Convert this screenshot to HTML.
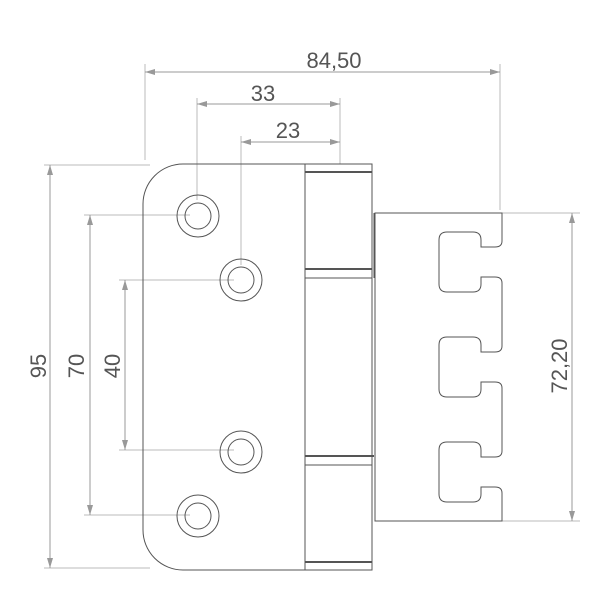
<!DOCTYPE html>
<html><head><style>html,body{margin:0;padding:0;background:#fff}svg{display:block}</style></head><body>
<svg width="600" height="600" viewBox="0 0 600 600" xmlns="http://www.w3.org/2000/svg">
<defs>
<marker id="a" viewBox="0 0 10 6" refX="10" refY="3" markerWidth="10" markerHeight="6" orient="auto-start-reverse" markerUnits="userSpaceOnUse"><path d="M0,0L10,3L0,6z" fill="#999"/></marker>
</defs>
<g stroke="#bbb" stroke-width="1" fill="none">
<line x1="145" y1="64" x2="145" y2="160"/>
<line x1="500" y1="64" x2="500" y2="210"/>
<line x1="197" y1="98" x2="197" y2="200"/>
<line x1="241" y1="136" x2="241" y2="265"/>
<line x1="340" y1="98" x2="340" y2="164"/>
<line x1="44" y1="165" x2="150" y2="165"/>
<line x1="44" y1="568" x2="150" y2="568"/>
<line x1="84" y1="215" x2="190" y2="215"/>
<line x1="84" y1="515" x2="190" y2="515"/>
<line x1="119" y1="280" x2="234" y2="280"/>
<line x1="119" y1="450" x2="234" y2="450"/>
<line x1="502" y1="213" x2="580" y2="213"/>
<line x1="502" y1="521" x2="580" y2="521"/>
</g>
<g stroke="#999" stroke-width="1" fill="none">
<line x1="145" y1="72" x2="500" y2="72" marker-start="url(#a)" marker-end="url(#a)"/>
<line x1="197" y1="104" x2="340" y2="104" marker-start="url(#a)" marker-end="url(#a)"/>
<line x1="241" y1="142" x2="340" y2="142" marker-start="url(#a)" marker-end="url(#a)"/>
<line x1="50" y1="165" x2="50" y2="568" marker-start="url(#a)" marker-end="url(#a)"/>
<line x1="90" y1="215" x2="90" y2="515" marker-start="url(#a)" marker-end="url(#a)"/>
<line x1="125" y1="280" x2="125" y2="450" marker-start="url(#a)" marker-end="url(#a)"/>
<line x1="572" y1="213" x2="572" y2="521" marker-start="url(#a)" marker-end="url(#a)"/>
</g>
<g font-family="Liberation Sans, sans-serif" font-size="22" fill="#555" text-anchor="middle">
<text x="334" y="68">84,50</text>
<text x="263" y="101">33</text>
<text x="288" y="138">23</text>
<text transform="translate(46,366) rotate(-90)">95</text>
<text transform="translate(84,366) rotate(-90)">70</text>
<text transform="translate(120,366) rotate(-90)">40</text>
<text transform="translate(567,366) rotate(-90)">72,20</text>
</g>
<g stroke="#555" stroke-width="1" fill="none">
<path d="M305,164 H183 A40,40 0 0 0 143,204 V530 A40,40 0 0 0 183,570 H305"/>
<rect x="305" y="164" width="67" height="406"/>
<line x1="305" y1="172" x2="372" y2="172" stroke-width="2"/>
<line x1="305" y1="269" x2="372" y2="269" stroke-width="2"/>
<line x1="305" y1="278" x2="372" y2="278"/>
<line x1="305" y1="456" x2="374" y2="456" stroke-width="2"/>
<line x1="305" y1="465" x2="372" y2="465"/>
<line x1="305" y1="562" x2="372" y2="562" stroke-width="2"/>
<line x1="374" y1="213" x2="374" y2="278"/>
<line x1="375" y1="456" x2="375" y2="521"/>
<path d="M375,213 H502 V241 Q502,247 495,247 H481 V240 Q481,232 473,232 H447 Q439,232 439,240 V284 Q439,292 447,292 H473 Q481,292 481,284 V277 H495 Q502,277 502,283 V346 Q502,352 495,352 H481 V345 Q481,337 473,337 H447 Q439,337 439,345 V389 Q439,397 447,397 H473 Q481,397 481,389 V382 H495 Q502,382 502,388 V451 Q502,457 495,457 H481 V450 Q481,442 473,442 H447 Q439,442 439,450 V494 Q439,502 447,502 H473 Q481,502 481,494 V487 H495 Q502,487 502,493 V521 H375 Z"/>
<circle cx="198" cy="216" r="21"/><circle cx="198" cy="216" r="13"/>
<circle cx="241" cy="280" r="21"/><circle cx="241" cy="280" r="13"/>
<circle cx="241" cy="452" r="21"/><circle cx="241" cy="452" r="13"/>
<circle cx="198" cy="516" r="21"/><circle cx="198" cy="516" r="13"/>
</g>
</svg>
</body></html>
